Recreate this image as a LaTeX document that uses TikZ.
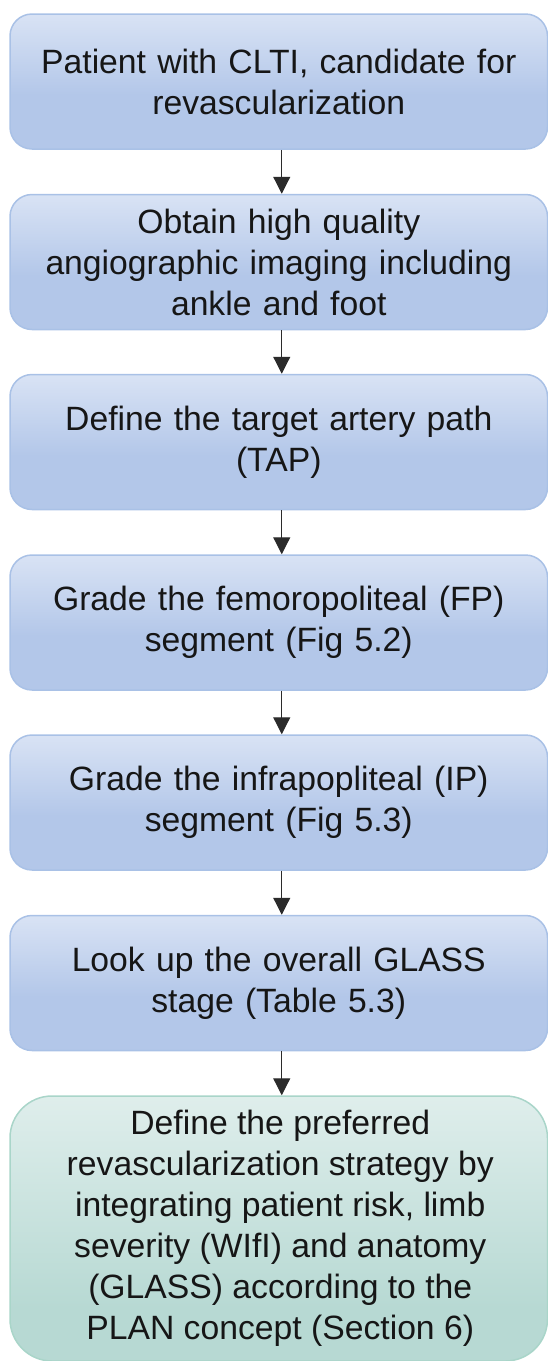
\documentclass[tikz,border=0pt]{standalone}
\usepackage{fontspec}
\setmainfont{Liberation Sans}
\usetikzlibrary{arrows.meta}
\definecolor{bluebot}{HTML}{B3C7E9}
\definecolor{bluetop}{HTML}{F8FAFE}
\definecolor{blueline}{HTML}{A9C1E6}
\definecolor{tealbot}{HTML}{B7D9D3}
\definecolor{tealtop}{HTML}{F8FBFB}
\definecolor{tealline}{HTML}{A9D5C9}
\definecolor{arrowcol}{HTML}{2B2B2B}
\definecolor{txt}{HTML}{161616}
\pgfdeclareverticalshading{blueshade}{100bp}{color(0bp)=(bluebot); color(45bp)=(bluebot); color(100bp)=(bluetop)}
\pgfdeclareverticalshading{tealshade}{100bp}{color(0bp)=(tealbot); color(35bp)=(tealbot); color(100bp)=(tealtop)}
\tikzset{
  stepbox/.style={draw=blueline, line width=1.5pt, rounded corners=22pt, shading=blueshade,
    minimum width=537.5pt, minimum height=135pt, text width=530pt, align=center,
    inner sep=0pt, text=txt, font=\fontsize{33.7pt}{41pt}\selectfont},
  finalbox/.style={draw=tealline, line width=1.5pt, shading=tealshade, rounded corners=42pt,
    minimum width=537.5pt, minimum height=265pt, inner sep=0pt, text=txt,
    font=\fontsize{33.7pt}{41pt}\selectfont},
  flow/.style={draw=arrowcol, line width=1.2pt, -{Triangle[width=17pt,length=17pt]}}
}
\begin{document}
\begin{tikzpicture}[x=1pt,y=1pt]
\useasboundingbox (0,0) rectangle (548,-1361);
\clip (0,0) rectangle (548,-1361);
\node[stepbox] (b1) at (278.75,-81.5) {Patient with CLTI, candidate for\\revascularization};
\node[stepbox] (b2) at (278.75,-262) {Obtain high quality\\angiographic imaging including\\ankle and foot};
\node[stepbox] (b3) at (278.75,-442) {Define the target artery path\\(TAP)};
\node[stepbox] (b4) at (278.75,-622.5) {Grade the femoropoliteal (FP)\\segment (Fig 5.2)};
\node[stepbox] (b5) at (278.75,-802.5) {Grade the infrapopliteal (IP)\\segment (Fig 5.3)};
\node[stepbox] (b6) at (278.75,-983) {Look up the overall GLASS\\stage (Table 5.3)};
\node[finalbox] (b7) at (278.75,-1228.5) {\hspace*{3pt}\raisebox{-5pt}{\begin{tabular}{@{}c@{}}Define the preferred\\revascularization strategy by\\integrating patient risk, limb\\severity (WIfI) and anatomy\\(GLASS) according to the\\PLAN concept (Section 6)\end{tabular}}};
\draw[flow] ([xshift=3pt]b1.south) -- ([xshift=3pt]b2.north);
\draw[flow] ([xshift=3pt]b2.south) -- ([xshift=3pt]b3.north);
\draw[flow] ([xshift=3pt]b3.south) -- ([xshift=3pt]b4.north);
\draw[flow] ([xshift=3pt]b4.south) -- ([xshift=3pt]b5.north);
\draw[flow] ([xshift=3pt]b5.south) -- ([xshift=3pt]b6.north);
\draw[flow] ([xshift=3pt]b6.south) -- ([xshift=3pt]b7.north);
\end{tikzpicture}
\end{document}
